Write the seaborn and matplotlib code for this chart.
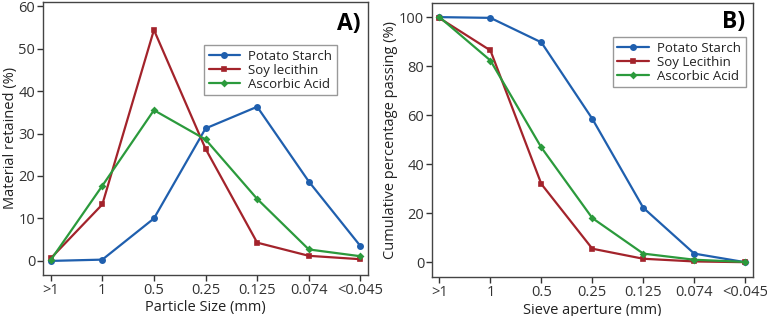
import matplotlib
matplotlib.use("Agg")
import matplotlib.pyplot as plt
import seaborn as sns
import pandas as pd

sizes = [">1", "1", "0.5", "0.25", "0.125", "0.074", "<0.045"]

# Panel A: material retained (%)
ret_potato = [0.0, 0.3, 10.0, 31.2, 36.3, 18.7, 3.5]
ret_soy = [0.6, 13.3, 54.4, 26.4, 4.3, 1.2, 0.4]
ret_ascorbic = [0.2, 17.7, 35.5, 28.6, 14.6, 2.7, 1.1]
labels_a = ["Potato Starch", "Soy lecithin", "Ascorbic Acid"]

# Panel B: cumulative percentage passing (%)
pass_potato = [100.0, 99.7, 89.7, 58.5, 22.2, 3.5, 0.0]
pass_soy = [99.6, 86.4, 31.9, 5.5, 1.4, 0.3, 0.0]
pass_ascorbic = [100.0, 82.3, 46.8, 18.0, 3.5, 1.0, 0.1]
labels_b = ["Potato Starch", "Soy Lecithin", "Ascorbic Acid"]

colors = ["#1f5fae", "#a3232b", "#2b9a3c"]
markers = ["o", "s", "D"]
msizes = [3.8, 3.5, 2.8]

sns.set_style("ticks")
plt.rcParams["font.family"] = ["Open Sans", "DejaVu Sans"]
plt.rcParams["text.color"] = "#222222"
plt.rcParams["axes.labelcolor"] = "#222222"
plt.rcParams["xtick.color"] = "#333333"
plt.rcParams["ytick.color"] = "#333333"


def make_df(vals, labels):
    rows = []
    for v, lab in zip(vals, labels):
        for s, y in zip(sizes, v):
            rows.append({"size": s, "value": y, "series": lab})
    return pd.DataFrame(rows)


fig = plt.figure(figsize=(7.67, 3.16), dpi=100)
axA = fig.add_axes([0.056, 0.130, 0.424, 0.864])
axB = fig.add_axes([0.563, 0.123, 0.4185, 0.867])


def draw(ax, df, labels, ylabel, xlabel, tag, ylim, yticks, leg_anchor, tag_y):
    for lab, c, m, ms in zip(labels, colors, markers, msizes):
        sub = df[df["series"] == lab]
        sns.pointplot(data=sub, x="size", y="value", order=sizes, color=c,
                      marker=m, markersize=ms, linewidth=1.6, errorbar=None,
                      label=lab, ax=ax)
    ax.set_xlim(-0.15, 6.15)
    ax.set_ylim(*ylim)
    ax.set_yticks(yticks)
    ax.set_xlabel(xlabel, fontsize=10.5, labelpad=1.5)
    ax.set_ylabel(ylabel, fontsize=10.5, labelpad=0.5)
    ax.tick_params(labelsize=10.5, direction="out", length=4, width=1, pad=2)
    ax.tick_params(axis="y", pad=1.5)
    for sp in ax.spines.values():
        sp.set_visible(True)
        sp.set_color("#444444")
        sp.set_linewidth(1.0)
    h, l = ax.get_legend_handles_labels()
    ax.legend(h, l, loc="upper left", bbox_to_anchor=leg_anchor, frameon=True,
              fancybox=False, edgecolor="#999999", framealpha=1, fontsize=9.5,
              handlelength=2.4, borderpad=0.35, labelspacing=0.08,
              handletextpad=0.6, borderaxespad=0)
    ax.text(0.975, tag_y, tag, transform=ax.transAxes, ha="right", va="center",
            fontsize=16.5, fontweight="bold", color="black")


dfA = make_df([ret_potato, ret_soy, ret_ascorbic], labels_a)
dfB = make_df([pass_potato, pass_soy, pass_ascorbic], labels_b)

draw(axA, dfA, labels_a, "Material retained (%)", "Particle Size (mm)", "A)",
     (-3.3, 61), [0, 10, 20, 30, 40, 50, 60], (0.495, 0.842), 0.92)
draw(axB, dfB, labels_b, "Cumulative percentage passing (%)", "Sieve aperture (mm)", "B)",
     (-6.1, 105.7), [0, 20, 40, 60, 80, 100], (0.564, 0.876), 0.93)

fig.savefig("out.png", dpi=100)
